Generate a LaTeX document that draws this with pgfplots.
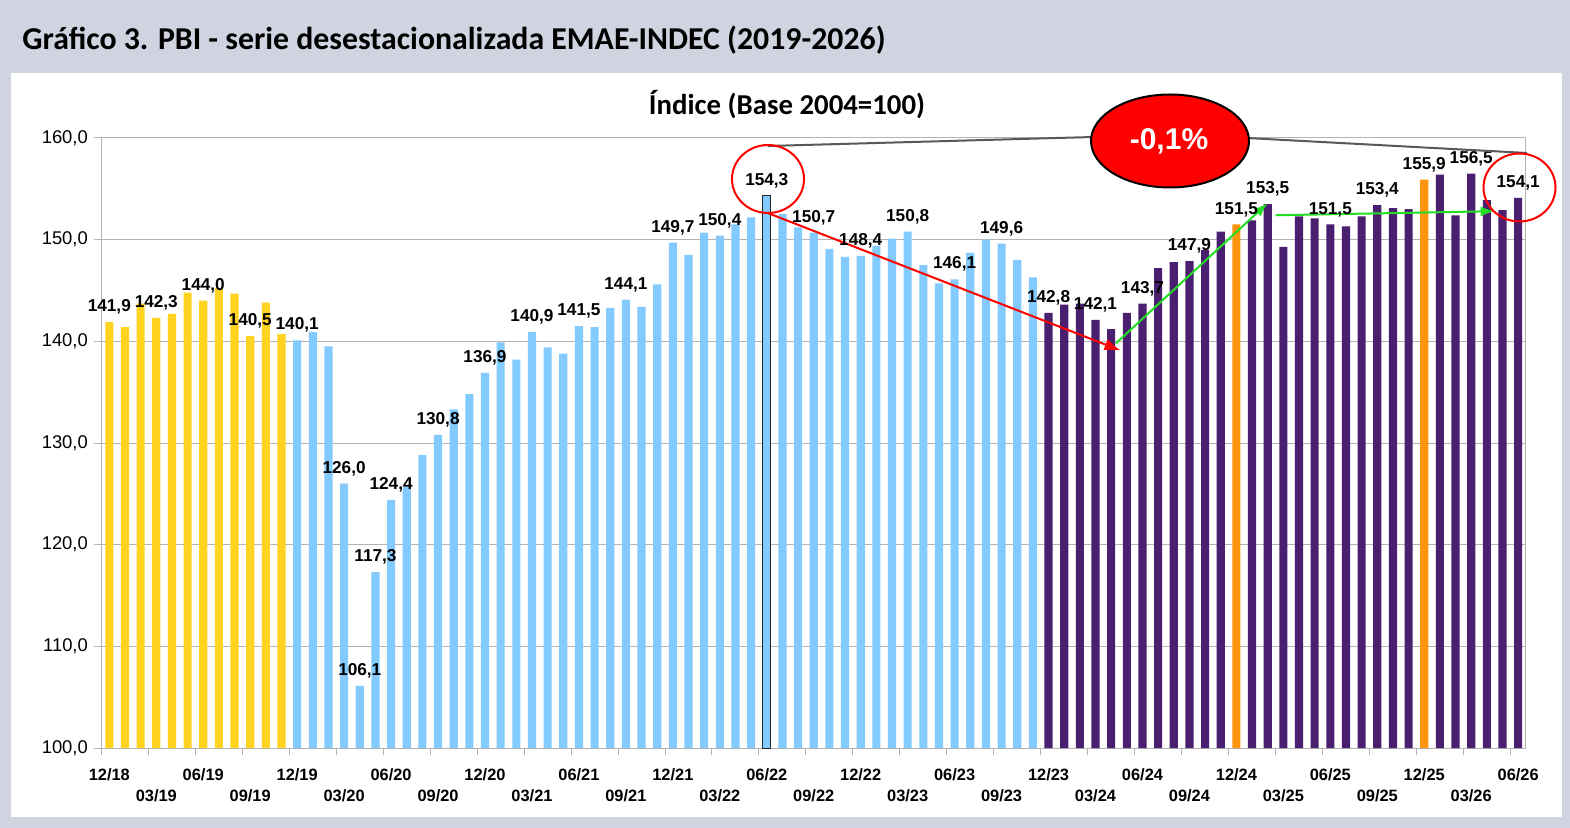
\documentclass[border=0pt]{standalone}
\usepackage{fontspec}
\setmainfont{Liberation Sans}
\newfontfamily\calibri{Carlito}
\usepackage{pgfplots}
\pgfplotsset{compat=1.18}
\usepackage{pgfplotstable}
\usetikzlibrary{arrows.meta}

\definecolor{cyel}{HTML}{FFD320}
\definecolor{cblu}{HTML}{83CAFF}
\definecolor{cpur}{HTML}{4B1F6F}
\definecolor{cora}{HTML}{FF950E}
\definecolor{bgc}{HTML}{CFD4E0}
\definecolor{gridc}{HTML}{B3B3B3}
\definecolor{cgreen}{HTML}{22DD22}
\definecolor{cred}{HTML}{FF0000}

\newcommand{\low}[1]{\raisebox{-10.5pt}{#1}}

\pgfplotstableread{
x y
0 141.9
1 141.4
2 143.7
3 142.3
4 142.7
5 144.8
6 144.0
7 145.2
8 144.7
9 140.5
10 143.8
11 140.7
}\yeldata

\pgfplotstableread{
x y
12 140.1
13 140.9
14 139.5
15 126.0
16 106.1
17 117.3
18 124.4
19 125.7
20 128.8
21 130.8
22 133.3
23 134.8
24 136.9
25 139.9
26 138.2
27 140.9
28 139.4
29 138.8
30 141.5
31 141.4
32 143.3
33 144.1
34 143.4
35 145.6
36 149.7
37 148.5
38 150.7
39 150.4
40 151.5
41 152.2
43 152.5
44 151.2
45 150.7
46 149.1
47 148.3
48 148.4
49 149.4
50 150.1
51 150.8
52 147.5
53 145.7
54 146.1
55 148.7
56 150.0
57 149.6
58 148.0
59 146.3
}\bludata

\pgfplotstableread{
x y
42 154.3
}\peakdata

\pgfplotstableread{
x y
60 142.8
61 143.6
62 143.7
63 142.1
64 141.2
65 142.8
66 143.7
67 147.2
68 147.8
69 147.9
70 149.0
71 150.8
73 151.9
74 153.5
75 149.3
76 152.3
77 152.1
78 151.5
79 151.3
80 152.3
81 153.4
82 153.1
83 153.0
85 156.4
86 152.4
87 156.5
88 153.9
89 152.9
90 154.1
}\purdata

\pgfplotstableread{
x y
72 151.5
84 155.9
}\oradata

\pgfplotstableread{
x y
0 141.9
3 142.3
6 144.0
9 140.5
12 140.1
15 126.0
16 106.1
17 117.3
18 124.4
21 130.8
24 136.9
27 140.9
30 141.5
33 144.1
36 149.7
39 150.4
42 154.3
45 150.7
48 148.4
51 150.8
54 146.1
57 149.6
60 142.8
63 142.1
66 143.7
69 147.9
72 151.5
74 153.5
78 151.5
81 153.4
84 155.9
87 156.5
90 154.1
}\labdata

\begin{document}
\begin{tikzpicture}
\begin{scope}[x=0.5pt,y=-0.5pt]
\path[use as bounding box] (0,0) rectangle (1570,828);
\fill[bgc] (0,0) rectangle (1570,828);
\fill[white] (11,73) rectangle (1562,817);
\node[anchor=base west, inner sep=0pt, font=\calibri\bfseries\fontsize{15.9}{18}\selectfont] at (22,50) {Gráfico 3. PBI - serie desestacionalizada EMAE-INDEC (2019-2026)};
\node[anchor=base, inner sep=0pt, font=\calibri\bfseries\fontsize{14.4}{16}\selectfont] at (787,115) {Índice (Base 2004=100)};
\end{scope}

\begin{axis}[
  at={(50.75pt,-374pt)}, anchor=south west,
  scale only axis, width=712.25pt, height=305pt,
  xmin=-0.5, xmax=90.5, ymin=100, ymax=160,
  clip=false,
  axis line style={draw=gridc, line width=0.5pt},
  scaled ticks=false,
  ytick={100,110,...,160},
  minor ytick={100,110,...,160},
  xtick={0,3,...,90},
  xticklabels={12/18,\low{03/19},06/19,\low{09/19},12/19,\low{03/20},06/20,\low{09/20},12/20,\low{03/21},06/21,\low{09/21},12/21,\low{03/22},06/22,\low{09/22},12/22,\low{03/23},06/23,\low{09/23},12/23,\low{03/24},06/24,\low{09/24},12/24,\low{03/25},06/25,\low{09/25},12/25,\low{03/26},06/26},
  minor xtick={-0.5,2.5,...,89.5},
  major tick length=0pt, minor tick length=3.5pt,
  tick align=outside, tick pos=left,
  minor tick style={draw=gridc, line width=0.5pt},
  ymajorgrids, grid style={draw=gridc, line width=0.5pt},
  yticklabel style={font=\fontsize{9.2}{10}\selectfont, xshift=-3.3pt},
  xticklabel style={font=\bfseries\fontsize{8.2}{9}\selectfont, inner sep=0pt, text height=6pt, text depth=0pt, anchor=north, yshift=-10pt},
  /pgf/number format/fixed,
  /pgf/number format/fixed zerofill,
  /pgf/number format/precision=1,
  /pgf/number format/use comma,
  /pgf/number format/assume math mode=true,
]
\addplot[ybar, bar width=0.52, bar shift=0pt, fill=cyel, draw=none] table {\yeldata};
\addplot[ybar, bar width=0.52, bar shift=0pt, fill=cblu, draw=none] table {\bludata};
\addplot[ybar, bar width=0.52, bar shift=0pt, fill=cblu, draw=black!85, line width=0.5pt] table {\peakdata};
\addplot[ybar, bar width=0.52, bar shift=0pt, fill=cpur, draw=none] table {\purdata};
\addplot[ybar, bar width=0.52, bar shift=0pt, fill=cora, draw=none] table {\oradata};
\addplot[only marks, mark=*, mark size=0pt, mark options={draw=none, fill=none},
  nodes near coords, point meta=y,
  every node near coord/.append style={font=\bfseries\fontsize{8.6}{9}\selectfont, inner sep=0pt, text depth=0pt, anchor=south, yshift=5pt, text=black}] table {\labdata};

\draw[cred, line width=1pt, -{Latex[length=8pt,width=6pt]}] (axis cs:42.1,152.6) -- (axis cs:64.6,139.1);
\draw[cgreen, line width=1pt, -{Latex[length=7pt,width=5pt]}] (axis cs:64.3,139.8) -- (axis cs:74.0,153.6);
\draw[cgreen, line width=1pt, -{Latex[length=7pt,width=5pt]}] (axis cs:74.5,152.4) -- (axis cs:88.5,152.8);
\end{axis}

\begin{scope}[x=0.5pt,y=-0.5pt]
\draw[black!65, line width=1pt] (768,146) -- (1093,137);
\draw[black!65, line width=1pt] (1247,138) -- (1527,153);
\draw[cred, line width=1pt] (768,179) ellipse [x radius=36, y radius=34];
\draw[cred, line width=1pt] (1519.5,187.5) ellipse [x radius=36, y radius=34];
\draw[fill=cred, draw=black, line width=1pt] (1170,141) ellipse [x radius=79, y radius=46.5];
\node[text=white, font=\bfseries\fontsize{15}{17}\selectfont] at (1169,141) {-0,1\%};
\end{scope}
\end{tikzpicture}
\end{document}
